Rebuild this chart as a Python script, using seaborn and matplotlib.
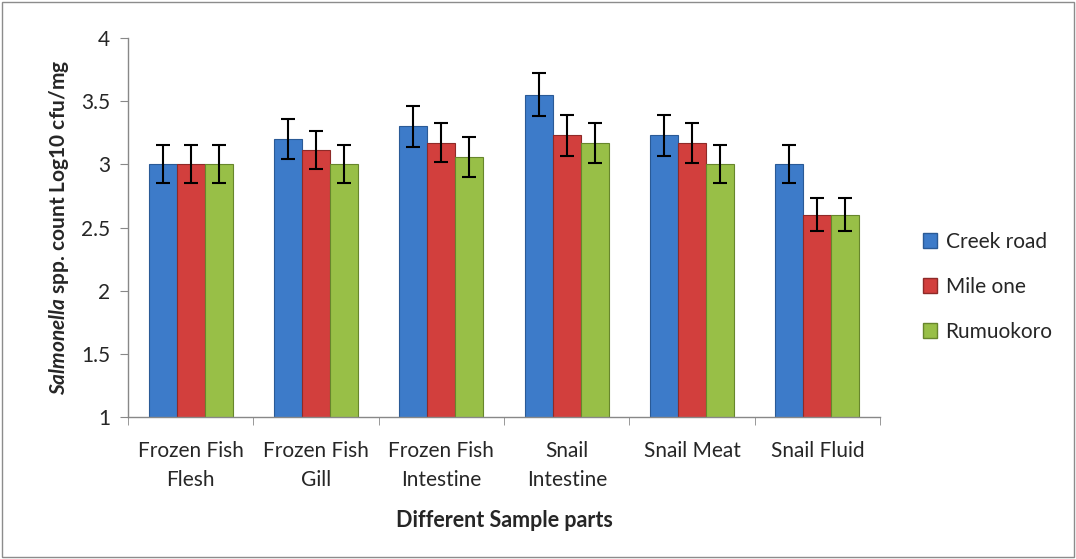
import pandas as pd
import matplotlib.pyplot as plt
import seaborn as sns
from matplotlib.patches import Rectangle

# Data
parts = ['Frozen Fish\nFlesh', 'Frozen Fish\nGill', 'Frozen Fish\nIntestine',
         'Snail\nIntestine', 'Snail Meat', 'Snail Fluid']
sites = ['Creek road', 'Mile one', 'Rumuokoro']
creek_road = [3.00, 3.20, 3.30, 3.55, 3.23, 3.00]
mile_one = [3.00, 3.11, 3.17, 3.23, 3.17, 2.60]
rumuokoro = [3.00, 3.00, 3.06, 3.17, 3.00, 2.60]
creek_err = [0.15, 0.16, 0.16, 0.17, 0.16, 0.15]
mile_err = [0.15, 0.15, 0.155, 0.16, 0.16, 0.13]
rumu_err = [0.15, 0.15, 0.16, 0.16, 0.15, 0.13]

errors = [creek_err, mile_err, rumu_err]
df = pd.DataFrame({
    'part': parts * 3,
    'site': [s for s in sites for _ in parts],
    'count': creek_road + mile_one + rumuokoro,
})

colors = ['#3d7bc9', '#d23f3d', '#98bf47']
edges = ['#2a5a96', '#8e2a28', '#67862c']

sns.set_style('white')
plt.rcParams['font.family'] = ['Lato', 'DejaVu Sans']
plt.rcParams['mathtext.fontset'] = 'custom'
plt.rcParams['mathtext.bfit'] = 'Lato:italic:bold'

fig = plt.figure(figsize=(10.76, 5.59), dpi=100)
ax = fig.add_axes([0.119, 0.254, 0.699, 0.678])

sns.barplot(data=df, x='part', y='count', hue='site', palette=colors,
            width=0.67, saturation=1, ax=ax, legend=False)

for cont, ec, errs in zip(ax.containers, edges, errors):
    xs, hs = [], []
    for bar in cont:
        bar.set_edgecolor(ec)
        bar.set_linewidth(0.8)
        xs.append(bar.get_x() + bar.get_width() / 2)
        hs.append(bar.get_height())
    ax.errorbar(xs, hs, yerr=errs, fmt='none', ecolor='black',
                elinewidth=1.5, capsize=5, capthick=1.5, zorder=5)

# Axes formatting
ax.set_ylim(1, 4)
ax.set_xlim(-0.5, 5.5)
ax.set_yticks([1, 1.5, 2, 2.5, 3, 3.5, 4])
ax.set_yticklabels(['1', '1.5', '2', '2.5', '3', '3.5', '4'], fontsize=15)
ax.set_xticks(range(6))
ax.set_xticklabels(parts, fontsize=15, linespacing=1.6)
ax.set_xticks([i - 0.5 for i in range(7)], minor=True)
ax.tick_params(axis='x', which='major', length=0, pad=17)
ax.tick_params(axis='x', which='minor', length=6, color='#888888', direction='out', bottom=True)
ax.tick_params(axis='y', length=6, color='#888888', direction='out', left=True, pad=7)
sns.despine(ax=ax)
for s in ['left', 'bottom']:
    ax.spines[s].set_color('#888888')
    ax.spines[s].set_linewidth(1)

ax.set_xlabel('Different Sample parts', fontsize=15.5, fontweight='bold', labelpad=14)
ax.set_ylabel(r'$\mathbfit{Salmonella}$ spp. count Log10 cfu/mg',
              fontsize=15, fontweight='bold', labelpad=7)

# Legend
handles = [Rectangle((0, 0), 1, 1, facecolor=c, edgecolor=e) for c, e in zip(colors, edges)]
fig.legend(handles, sites, loc='center left', bbox_to_anchor=(0.84, 0.487),
           frameon=False, fontsize=15, handlelength=0.7, handleheight=0.7,
           handletextpad=0.4, labelspacing=1.2)

# Outer chart border
fig.patches.append(Rectangle((0.002, 0.004), 0.996, 0.992, transform=fig.transFigure,
                             fill=False, edgecolor='#8c8c8c', linewidth=1))

fig.savefig('out.png', dpi=100)
